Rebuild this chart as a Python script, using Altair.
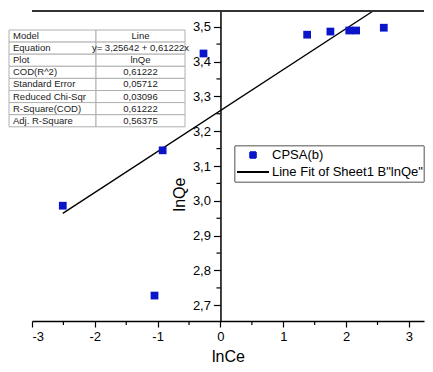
import altair as alt
import pandas as pd

# ---- data ----
ln_ce = [-2.51, -1.05, -0.92, -0.27, 1.38, 1.75, 2.05, 2.16, 2.60]
ln_qe = [2.986, 2.728, 3.145, 3.423, 3.477, 3.486, 3.489, 3.489, 3.497]

fit_x = [-2.51, 2.43]
fit_y = [2.964, 3.545]

x_major = [-3, -2, -1, 0, 1, 2, 3]
x_minor = [-2.5, -1.5, -0.5, 0.5, 1.5, 2.5]
y_major = [2.7, 2.8, 2.9, 3.0, 3.1, 3.2, 3.3, 3.4, 3.5]
y_minor = [2.75, 2.85, 2.95, 3.05, 3.15, 3.25, 3.35, 3.45]

table_labels = ["Model", "Equation", "Plot", "COD(R^2)", "Standard Error",
                "Reduced Chi-Sqr", "R-Square(COD)", "Adj. R-Square"]
table_values = ["Line", "y= 3,25642 + 0,61222x", "lnQe", "0,61222", "0,05712",
                "0,03096", "0,61222", "0,56375"]

legend_labels = ["CPSA(b)", 'Line Fit of Sheet1 B"lnQe"']

# ---- layout ----
X_MIN, X_MAX = -3, 3.24
Y_MIN, Y_MAX = 2.655, 3.545
FONT = "Liberation Sans"
BLUE = "#0a14c8"

xscale = alt.Scale(domain=[X_MIN, X_MAX], nice=False, zero=False)
yscale = alt.Scale(domain=[Y_MIN, Y_MAX], nice=False, zero=False)

pts = pd.DataFrame({"lnCe": ln_ce, "lnQe": ln_qe})
fit = pd.DataFrame({"lnCe": fit_x, "lnQe": fit_y})

x_axis = alt.Axis(
    title="lnCe", values=x_major, tickCount=30, grid=False, labelOverlap=False,
    labelExpr="'' + datum.value", tickSize=6,
    domainColor="black", tickColor="black", domainWidth=1.5, tickWidth=1.2,
    labelFont=FONT, labelFontSize=13, labelColor="black", labelPadding=3,
    titleFont=FONT, titleFontSize=16, titleFontWeight="normal", titleColor="black",
    titlePadding=5,
)
y_axis = alt.Axis(
    title="lnQe", values=y_major, tickCount=30, grid=False,
    offset={"expr": "-scale('x', 0)"}, labelOverlap=False,
    labelExpr="replace(format(datum.value, '.1f'), '.', ',')", tickSize=7,
    domainColor="black", tickColor="black", domainWidth=1.5, tickWidth=1.2,
    labelFont=FONT, labelFontSize=13, labelColor="black", labelPadding=3,
    titleFont=FONT, titleFontSize=16, titleFontWeight="normal", titleColor="black",
    titlePadding=5, titleY=183,
)

points = alt.Chart(pts).mark_square(size=60, color=BLUE, opacity=1).encode(
    x=alt.X("lnCe:Q", scale=xscale, axis=x_axis),
    y=alt.Y("lnQe:Q", scale=yscale, axis=y_axis),
)

line = alt.Chart(fit).mark_line(color="black", strokeWidth=1.4).encode(
    x=alt.X("lnCe:Q", scale=xscale),
    y=alt.Y("lnQe:Q", scale=yscale),
)

# minor ticks
xm = pd.DataFrame({"v": x_minor})
ym = pd.DataFrame({"v": y_minor})
x_minor_ticks = alt.Chart(xm).mark_rule(color="black", strokeWidth=1.2, y2Offset=4).encode(
    x=alt.X("v:Q", scale=xscale), y=alt.value("height"), y2=alt.value("height"))
y_minor_ticks = alt.Chart(ym).mark_rule(color="black", strokeWidth=1.2, xOffset=-4).encode(
    y=alt.Y("v:Q", scale=yscale), x=alt.datum(0, scale=xscale), x2=alt.datum(0))

top_rule = alt.Chart(pts).mark_rule(color="#333", strokeWidth=2).encode(
    x=alt.value(0), x2=alt.value("width"), y=alt.value(0)
)

# ---- statistics table (pixel layout computed here) ----
T_LEFT, T_MID, T_RIGHT, T_TOP, ROW_H = -23, 64, 153, 19, 12.1
rows = []
for i, (lab, val) in enumerate(zip(table_labels, table_values)):
    y0 = T_TOP + i * ROW_H
    rows.append({"lab": lab, "val": val, "y0": y0, "y1": y0 + ROW_H,
                 "yc": y0 + ROW_H / 2, "xl0": T_LEFT, "xl1": T_MID,
                 "xv0": T_MID, "xv1": T_RIGHT,
                 "xlt": T_LEFT + 4, "xvt": (T_MID + T_RIGHT) / 2})
tbl = pd.DataFrame(rows)

cell_l = alt.Chart(tbl).mark_rect(fill="white", stroke="#b0b0b0", strokeWidth=1).encode(
    x=alt.X("xl0:Q", scale=None, axis=None), x2="xl1:Q",
    y=alt.Y("y0:Q", scale=None, axis=None), y2="y1:Q")
cell_v = alt.Chart(tbl).mark_rect(fill="white", stroke="#b0b0b0", strokeWidth=1).encode(
    x=alt.X("xv0:Q", scale=None, axis=None), x2="xv1:Q",
    y=alt.Y("y0:Q", scale=None, axis=None), y2="y1:Q")
txt_l = alt.Chart(tbl).mark_text(align="left", baseline="middle", font=FONT,
                                 fontSize=9.5, color="#222").encode(
    x=alt.X("xlt:Q", scale=None, axis=None),
    y=alt.Y("yc:Q", scale=None, axis=None), text="lab:N")
txt_v = alt.Chart(tbl).mark_text(align="center", baseline="middle", font=FONT,
                                 fontSize=9.5, color="#222").encode(
    x=alt.X("xvt:Q", scale=None, axis=None),
    y=alt.Y("yc:Q", scale=None, axis=None), text="val:N")

# ---- legend (drawn) ----
L_X0, L_Y0, L_Y1 = 203, 135, 171
leg_box = alt.Chart(pts).mark_rect(fill="white", stroke="#8a8a8a", strokeWidth=1).encode(
    x=alt.value(L_X0), x2=alt.value("width"), y=alt.value(L_Y0), y2=alt.value(L_Y1))
leg_sym = alt.Chart(pts).mark_square(size=40, color=BLUE, opacity=1).encode(
    x=alt.value(221), y=alt.value(144))
leg_line = alt.Chart(pts).mark_rule(color="black", strokeWidth=1.4).encode(
    x=alt.value(205), x2=alt.value(237), y=alt.value(161))
leg_df = pd.DataFrame({"t": legend_labels, "yy": [144, 161]})
leg_txt = alt.Chart(leg_df).mark_text(align="left", baseline="middle", font=FONT,
                                      fontSize=13, color="black").encode(
    x=alt.value(240), y=alt.Y("yy:Q", scale=None, axis=None), text="t:N")

chart = alt.layer(
    line, points, x_minor_ticks, y_minor_ticks, top_rule,
    cell_l, cell_v, txt_l, txt_v,
    leg_box, leg_sym, leg_line, leg_txt,
).properties(
    width=417, height=356, padding=0,
    autosize=alt.AutoSizeParams(type="fit", contains="padding"),
).configure_view(stroke=None)

chart.save("out.html", embed_options={"renderer": "svg", "actions": False})
